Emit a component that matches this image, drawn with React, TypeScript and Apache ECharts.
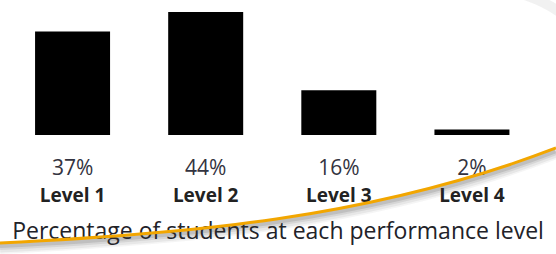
import React, { useEffect, useRef } from "react";
import * as echarts from "echarts";

const categories = ["Level 1", "Level 2", "Level 3", "Level 4"];
const percentages = [37, 44, 16, 2];
const percentLabels = ["37%", "44%", "16%", "2%"];
const titleText = "Percentage of students at each performance level";

const curve = { x1: 0, y1: 243, cpx1: 185, cpy1: 234, cpx2: 371, cpy2: 219, x2: 556, y2: 148 };

function shifted(dy: number) {
  return { ...curve, y1: curve.y1 + dy, cpy1: curve.cpy1 + dy, cpy2: curve.cpy2 + dy, y2: curve.y2 + dy };
}

export default function App() {
  const ref = useRef<HTMLDivElement>(null);
  useEffect(() => {
    if (!ref.current) return;
    const chart = echarts.init(ref.current, null, { renderer: "svg" });
    const shadowLayers = [
      { dy: 5, w: 12, a: 0.05 },
      { dy: 5, w: 9, a: 0.07 },
      { dy: 4, w: 6, a: 0.1 },
      { dy: 3, w: 4, a: 0.14 },
    ].map((s) => ({
      type: "bezierCurve",
      z: 99,
      silent: true,
      shape: shifted(s.dy),
      style: { stroke: `rgba(60,60,60,${s.a})`, lineWidth: s.w, fill: null },
    }));
    chart.setOption({
      animation: false,
      backgroundColor: "#ffffff",
      grid: { left: 6, right: 17.5, top: 12, bottom: 119 },
      xAxis: {
        type: "category",
        data: categories,
        axisLine: { show: false },
        axisTick: { show: false },
        axisLabel: {
          margin: 17,
          interval: 0,
          formatter: (v: string, i: number) => `{p|${percentLabels[i]}}\n{l|${v}}`,
          rich: {
            p: { fontFamily: "Open Sans", fontSize: 21, lineHeight: 29, color: "#333340" },
            l: { fontFamily: "Open Sans", fontSize: 19, fontWeight: "bold", lineHeight: 28, color: "#222222" },
          },
        },
      },
      yAxis: { type: "value", min: 0, max: 44, show: false, splitLine: { show: false } },
      title: {
        text: titleText,
        left: "center",
        top: 213,
        textStyle: { fontFamily: "Open Sans", fontSize: 23, fontWeight: "normal", color: "#222228" },
      },
      series: [
        {
          type: "bar",
          data: percentages,
          barWidth: 75,
          itemStyle: { color: "#000000" },
        },
      ],
      graphic: [
        ...shadowLayers,
        {
          type: "bezierCurve",
          z: 98,
          silent: true,
          shape: { x1: 522, y1: -6, cpx1: 540, cpy1: 0, cpx2: 552, cpy2: 6, x2: 562, y2: 14 },
          style: { stroke: "rgba(80,80,80,0.08)", lineWidth: 10, fill: null },
        },
        {
          type: "bezierCurve",
          z: 100,
          silent: true,
          shape: curve,
          style: { stroke: "#F2A600", lineWidth: 3, fill: null },
        },
      ],
    });
    return () => chart.dispose();
  }, []);
  return (
    <div
      ref={ref}
      style={{ position: "fixed", left: 0, top: 0, width: 556, height: 254 }}
    />
  );
}
